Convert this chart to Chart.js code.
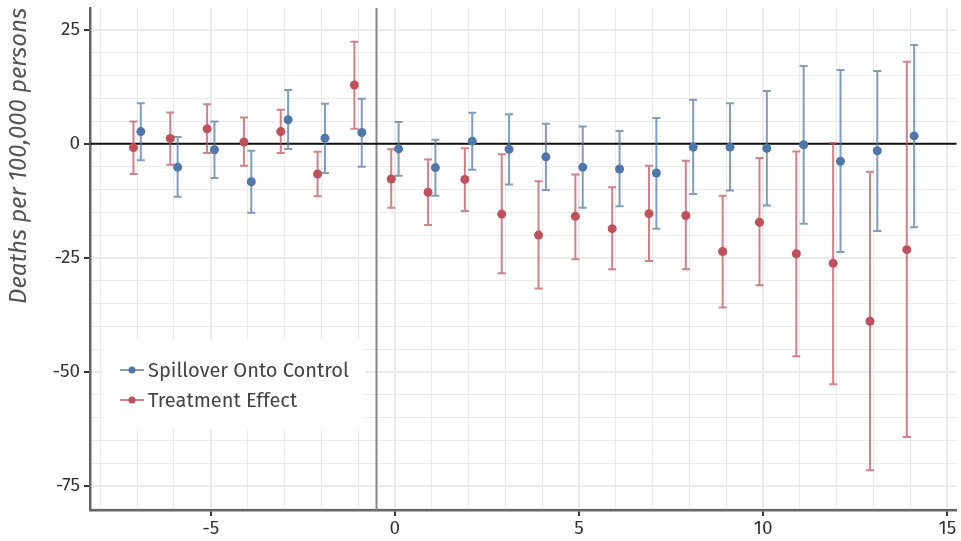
<!DOCTYPE html>
<html lang="en">
<head>
  <meta charset="utf-8" />
  <title>Event study: spillover vs treatment</title>
  <script src="https://cdn.jsdelivr.net/npm/chart.js@4.4.1/dist/chart.umd.min.js"></script>
  <style>
    html,body{margin:0;padding:0;background:#fff;}
    #wrap{width:961px;height:541px;position:relative;}
  </style>
</head>
<body>
  <div id="wrap"><canvas id="chart" width="961" height="541"></canvas></div>
  <script>
    // event time relative to treatment
    const periods = [-7, -6, -5, -4, -3, -2, -1, 0, 1, 2, 3, 4, 5, 6, 7, 8, 9, 10, 11, 12, 13, 14];

    // spillover onto control (estimate, lower, upper)
    const spillEst = [2.7, -5.1, -1.3, -8.3, 5.3, 1.25, 2.5, -1.1, -5.2, 0.6, -1.2, -2.85, -5.1, -5.5, -6.4, -0.7, -0.7, -0.95, -0.2, -3.8, -1.5, 1.75];
    const spillLo  = [-3.6, -11.6, -7.5, -15.1, -1.1, -6.4, -5.0, -7.0, -11.4, -5.7, -8.9, -10.1, -14.0, -13.7, -18.6, -11.0, -10.2, -13.5, -17.5, -23.7, -19.1, -18.3];
    const spillHi  = [8.9, 1.5, 4.9, -1.5, 11.8, 8.8, 9.9, 4.8, 0.9, 6.8, 6.5, 4.4, 3.8, 2.85, 5.7, 9.65, 8.9, 11.6, 17.1, 16.2, 16.0, 21.7];

    // treatment effect (estimate, lower, upper)
    const treatEst = [-0.8, 1.2, 3.3, 0.4, 2.7, -6.6, 12.9, -7.7, -10.6, -7.8, -15.4, -20.0, -15.9, -18.6, -15.3, -15.7, -23.6, -17.2, -24.1, -26.2, -38.9, -23.2];
    const treatLo  = [-6.6, -4.6, -2.0, -4.8, -2.0, -11.5, 3.3, -14.0, -17.8, -14.7, -28.4, -31.7, -25.3, -27.5, -25.7, -27.5, -35.9, -31.0, -46.6, -52.7, -71.6, -64.3];
    const treatHi  = [4.9, 6.9, 8.7, 5.8, 7.5, -1.75, 22.4, -1.2, -3.4, -0.95, -2.3, -8.2, -6.7, -9.5, -4.8, -3.7, -11.4, -3.1, -1.7, 0.2, -6.1, 18.0];

    const yTicks = [25, 0, -25, -50, -75];

    const BLUE = '#4f77a8', BLUE_BAR = 'rgba(79,119,168,0.72)';
    const RED = '#c0505a', RED_BAR = 'rgba(192,80,90,0.72)';
    const DODGE = 0.1;
    const FONT = "'Fira Sans','Open Sans','Noto Sans',sans-serif";

    function pts(est, shift) {
      return periods.map((p, i) => ({ x: p + shift, y: est[i] }));
    }

    const errorBars = {
      id: 'errorBars',
      beforeDatasetsDraw(chart) {
        const { ctx, chartArea: a, scales: { x, y } } = chart;
        ctx.save();
        // reference lines
        ctx.lineWidth = 2;
        ctx.strokeStyle = '#888';
        const xv = x.getPixelForValue(-0.5);
        ctx.beginPath(); ctx.moveTo(xv, a.top); ctx.lineTo(xv, a.bottom); ctx.stroke();
        ctx.strokeStyle = '#111';
        const y0 = y.getPixelForValue(0);
        ctx.beginPath(); ctx.moveTo(a.left, y0); ctx.lineTo(a.right, y0); ctx.stroke();

        const groups = [
          { lo: treatLo, hi: treatHi, shift: -DODGE, color: RED_BAR },
          { lo: spillLo, hi: spillHi, shift: DODGE, color: BLUE_BAR },
        ];
        ctx.lineWidth = 2;
        groups.forEach(g => {
          ctx.strokeStyle = g.color;
          periods.forEach((p, i) => {
            const px = x.getPixelForValue(p + g.shift);
            const lo = y.getPixelForValue(g.lo[i]);
            const hi = y.getPixelForValue(g.hi[i]);
            ctx.beginPath();
            ctx.moveTo(px, lo); ctx.lineTo(px, hi);
            ctx.moveTo(px - 4, lo); ctx.lineTo(px + 4, lo);
            ctx.moveTo(px - 4, hi); ctx.lineTo(px + 4, hi);
            ctx.stroke();
          });
        });
        ctx.restore();
      }
    };

    const boxLegend = {
      id: 'boxLegend',
      afterDatasetsDraw(chart) {
        const { ctx, chartArea: a } = chart;
        const left = a.left + 13, top = a.bottom - 170;
        ctx.save();
        ctx.fillStyle = '#fff';
        ctx.fillRect(left, top, 262, 89);
        ctx.font = '20px ' + FONT;
        ctx.textBaseline = 'middle';
        chart.data.datasets.forEach((ds, i) => {
          const cy = top + 30 + i * 30;
          ctx.strokeStyle = ds.barColor;
          ctx.lineWidth = 2;
          ctx.beginPath(); ctx.moveTo(left + 17, cy); ctx.lineTo(left + 41, cy); ctx.stroke();
          ctx.fillStyle = ds.pointBackgroundColor;
          ctx.beginPath(); ctx.arc(left + 29, cy, 3.5, 0, Math.PI * 2); ctx.fill();
          ctx.fillStyle = '#444';
          ctx.fillText(ds.label, left + 45, cy + 1);
        });
        ctx.restore();
      }
    };

    new Chart(document.getElementById('chart'), {
      type: 'scatter',
      data: {
        datasets: [
          { label: 'Spillover Onto Control', data: pts(spillEst, DODGE), pointBackgroundColor: BLUE, barColor: BLUE_BAR, pointBorderWidth: 0, pointRadius: 4.5 },
          { label: 'Treatment Effect', data: pts(treatEst, -DODGE), pointBackgroundColor: RED, barColor: RED_BAR, pointBorderWidth: 0, pointRadius: 4.5 },
        ]
      },
      options: {
        responsive: false,
        animation: false,
        layout: { padding: { top: 8, right: 3, left: 0, bottom: 0 } },
        plugins: { legend: { display: false }, tooltip: { enabled: false } },
        scales: {
          x: {
            type: 'linear', min: -8.28, max: 15.25,
            afterBuildTicks: s => { s.ticks = []; for (let v = -8; v <= 15; v++) s.ticks.push({ value: v }); },
            afterFit: s => { s.height = 31; s.paddingLeft = 0; s.paddingRight = 0; },
            border: { display: true, color: '#666', width: 2.5 },
            grid: {
              color: '#ebebeb',
              lineWidth: c => (c.tick && c.tick.value % 5 === 0 ? 2 : 1),
              tickColor: c => (c.tick && c.tick.value % 5 === 0 ? '#333' : 'rgba(0,0,0,0)'),
              tickLength: 6, tickWidth: 2
            },
            ticks: {
              autoSkip: false, maxRotation: 0, padding: 1,
              color: '#333', font: { family: FONT, size: 19 },
              callback: v => (v % 5 === 0 ? String(v) : '')
            }
          },
          y: {
            type: 'linear', min: -80.3, max: 29.8,
            afterBuildTicks: s => { s.ticks = []; for (let v = -80; v <= 25; v += 5) s.ticks.push({ value: v }); },
            afterFit: s => { s.width = 90; s.paddingTop = 0; s.paddingBottom = 0; },
            border: { display: true, color: '#666', width: 2.5 },
            grid: {
              color: '#ebebeb',
              lineWidth: c => (c.tick && yTicks.includes(c.tick.value) ? 2 : 1),
              tickColor: c => (c.tick && yTicks.includes(c.tick.value) ? '#333' : 'rgba(0,0,0,0)'),
              tickLength: 6, tickWidth: 2
            },
            ticks: {
              autoSkip: false, padding: 4,
              color: '#333', font: { family: FONT, size: 19 },
              callback: v => (yTicks.includes(v) ? String(v) : '')
            },
            title: {
              display: true, text: 'Deaths per 100,000 persons', color: '#555', align: 'end',
              font: { family: FONT, size: 24, style: 'italic' }, padding: { top: 5, bottom: 0 }
            }
          }
        }
      },
      plugins: [errorBars, boxLegend]
    });
  </script>
</body>
</html>
